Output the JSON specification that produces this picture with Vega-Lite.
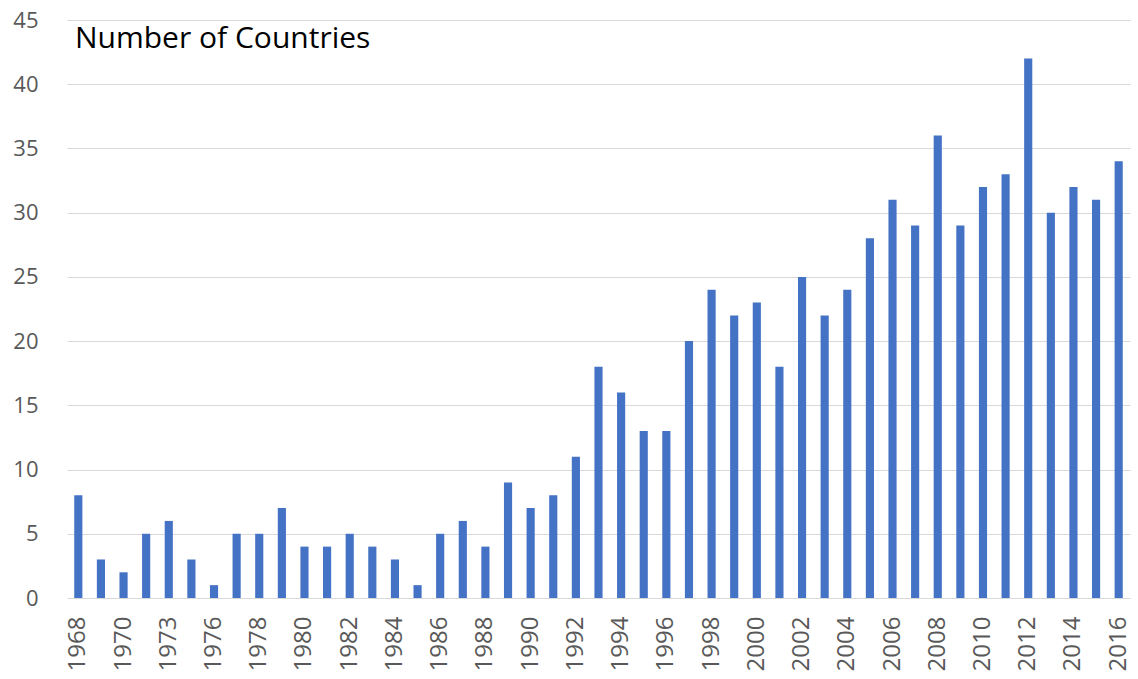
{
  "$schema": "https://vega.github.io/schema/vega-lite/v6.json",
  "width": 1063,
  "height": 578,
  "autosize": {"type": "none"},
  "padding": {"left": 67, "top": 20, "right": 8, "bottom": 81},
  "background": "white",
  "title": {
    "text": "Number of Countries",
    "anchor": "start",
    "frame": "group",
    "orient": "top",
    "offset": -69,
    "dx": 8,
    "baseline": "alphabetic",
    "font": "Open Sans",
    "fontSize": 30,
    "fontWeight": "normal",
    "color": "#000000"
  },
  "data": {
    "values": [
      {"year": "1968", "count": 8},
      {"year": "1969", "count": 3},
      {"year": "1970", "count": 2},
      {"year": "1972", "count": 5},
      {"year": "1973", "count": 6},
      {"year": "1975", "count": 3},
      {"year": "1976", "count": 1},
      {"year": "1977", "count": 5},
      {"year": "1978", "count": 5},
      {"year": "1979", "count": 7},
      {"year": "1980", "count": 4},
      {"year": "1981", "count": 4},
      {"year": "1982", "count": 5},
      {"year": "1983", "count": 4},
      {"year": "1984", "count": 3},
      {"year": "1985", "count": 1},
      {"year": "1986", "count": 5},
      {"year": "1987", "count": 6},
      {"year": "1988", "count": 4},
      {"year": "1989", "count": 9},
      {"year": "1990", "count": 7},
      {"year": "1991", "count": 8},
      {"year": "1992", "count": 11},
      {"year": "1993", "count": 18},
      {"year": "1994", "count": 16},
      {"year": "1995", "count": 13},
      {"year": "1996", "count": 13},
      {"year": "1997", "count": 20},
      {"year": "1998", "count": 24},
      {"year": "1999", "count": 22},
      {"year": "2000", "count": 23},
      {"year": "2001", "count": 18},
      {"year": "2002", "count": 25},
      {"year": "2003", "count": 22},
      {"year": "2004", "count": 24},
      {"year": "2005", "count": 28},
      {"year": "2006", "count": 31},
      {"year": "2007", "count": 29},
      {"year": "2008", "count": 36},
      {"year": "2009", "count": 29},
      {"year": "2010", "count": 32},
      {"year": "2011", "count": 33},
      {"year": "2012", "count": 42},
      {"year": "2013", "count": 30},
      {"year": "2014", "count": 32},
      {"year": "2015", "count": 31},
      {"year": "2016", "count": 34}
    ]
  },
  "mark": {"type": "bar", "color": "#4472C4"},
  "encoding": {
    "x": {
      "field": "year",
      "type": "nominal",
      "sort": null,
      "scale": {"paddingInner": 0.64, "paddingOuter": 0.32},
      "axis": {
        "title": null,
        "labelAngle": -90,
        "labelAlign": "right",
        "labelBaseline": "middle",
        "labelFont": "Open Sans",
        "labelFontSize": 24,
        "labelColor": "#595959",
        "labelPadding": 18,
        "ticks": false,
        "domain": false,
        "grid": false,
        "labelOverlap": false,
        "values": ["1968","1970","1973","1976","1978","1980","1982","1984","1986","1988","1990","1992","1994","1996","1998","2000","2002","2004","2006","2008","2010","2012","2014","2016"]
      }
    },
    "y": {
      "field": "count",
      "type": "quantitative",
      "scale": {"domain": [0, 45], "nice": false},
      "axis": {
        "title": null,
        "values": [0, 5, 10, 15, 20, 25, 30, 35, 40, 45],
        "labelFont": "Open Sans",
        "labelFontSize": 22,
        "labelColor": "#595959",
        "labelPadding": 29,
        "ticks": false,
        "domain": false,
        "grid": true,
        "gridColor": "#d9d9d9",
        "gridWidth": 1
      }
    }
  },
  "config": {"view": {"stroke": null}}
}
